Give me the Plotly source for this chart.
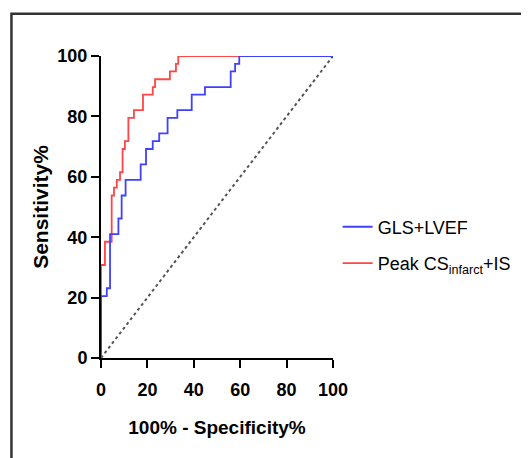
import plotly.graph_objects as go

# ROC step data: x = 100% - Specificity%, y = Sensitivity% (top of each vertical step)
gls_x = [0, 0, 2.5, 3.9, 7.5, 8.9, 10.6, 17.1, 19.4, 22.3, 25.1, 28.7, 32.9, 39.1, 44.8, 55.9, 57.8, 59.6, 100]
gls_y = [0, 20.5, 23.1, 41.0, 46.2, 53.8, 59.0, 64.1, 69.2, 71.8, 74.4, 79.5, 82.1, 87.2, 89.7, 94.9, 97.4, 100, 100]

cs_x = [0, 0, 1.7, 4.6, 5.6, 6.8, 8.2, 9.3, 10.3, 11.8, 14.2, 18.1, 22.3, 23.3, 29.7, 32.3, 33.3, 100]
cs_y = [0, 30.8, 38.5, 53.8, 56.4, 59.0, 61.5, 69.2, 71.8, 79.5, 82.1, 87.2, 89.7, 92.3, 94.9, 97.4, 100, 100]

ref_x = [0, 100]
ref_y = [0, 100]

tick_vals = [0, 20, 40, 60, 80, 100]
tick_text = ["0", "20", "40", "60", "80", "100"]

FONT = "Liberation Sans, Arial, sans-serif"

fig = go.Figure()
fig.add_trace(go.Scatter(x=ref_x, y=ref_y, mode="lines", showlegend=False,
                         line=dict(color="#555555", width=2, dash="dot"), cliponaxis=False))
fig.add_trace(go.Scatter(x=cs_x, y=cs_y, mode="lines", line_shape="hv", name="Peak CS<sub>infarct</sub>+IS",
                         line=dict(color="#ff4545", width=1.8), cliponaxis=False,
                         legendgroup="b", legendrank=2))
fig.add_trace(go.Scatter(x=gls_x, y=gls_y, mode="lines", line_shape="hv", name="GLS+LVEF",
                         line=dict(color="#4040ff", width=1.8), cliponaxis=False,
                         legendgroup="a", legendrank=1))

axis_common = dict(
    showline=True, linecolor="black", linewidth=2, ticks="outside", ticklen=8, tickwidth=2,
    tickcolor="black", showgrid=False, zeroline=False, range=[0, 100],
    tickvals=tick_vals, ticktext=tick_text, layer="below traces",
    tickfont=dict(family=FONT, size=18, color="black", weight="bold"),
)

fig.update_layout(
    width=521, height=450,
    margin=dict(l=93, r=196, t=48, b=100, autoexpand=False),
    paper_bgcolor="white", plot_bgcolor="white",
    xaxis=dict(**axis_common, ticklabelstandoff=6,
               title=dict(text="100% - Specificity%", standoff=22,
                          font=dict(family=FONT, size=19, color="black", weight="bold"))),
    yaxis=dict(**axis_common,
               title=dict(text="Sensitivity%", standoff=3,
                          font=dict(family=FONT, size=21, color="black", weight="bold"))),
    legend=dict(x=1.02, y=0.374, xanchor="left", yanchor="middle", bgcolor="rgba(0,0,0,0)",
                font=dict(family=FONT, size=18, color="black"), tracegroupgap=10,
                traceorder="grouped"),
    shapes=[dict(type="rect", xref="paper", yref="paper", x0=-0.386, x1=2.0, y0=-1.0, y1=1.14,
                 line=dict(color="#333333", width=2.5), fillcolor="rgba(0,0,0,0)", layer="below")],
)

fig.write_html("out.html")
